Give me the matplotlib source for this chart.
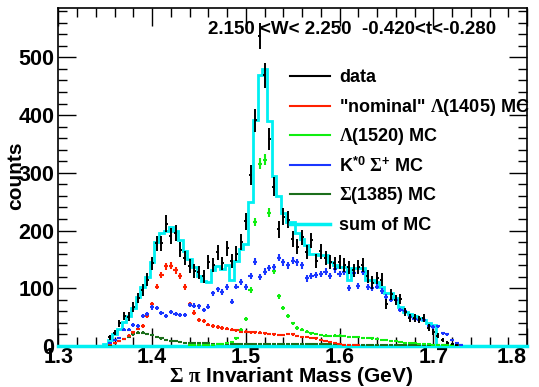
import numpy as np
import matplotlib
matplotlib.use("Agg")
import matplotlib.pyplot as plt
from matplotlib.lines import Line2D
from matplotlib.ticker import MultipleLocator

# bin width of all histograms (GeV)
BIN = 0.005

# data (black), first bin centre 1.355
data_x0 = 1.355
data_counts = [15, 23, 39, 52, 51, 68, 83, 97, 115, 143,
               178, 178, 212, 190, 195, 167, 153, 139, 130, 128,
               121, 146, 140, 162, 143, 169, 148, 160, 180, 216,
               296, 391, 537, 469, 359, 276, 202, 224, 219, 185,
               172, 188, 163, 183, 148, 164, 153, 145, 143, 146,
               140, 136, 131, 137, 140, 121, 110, 118, 115, 73,
               90, 80, 81, 59, 48, 48, 46, 48, 32, 24,
               18, 10, 6, 4, 2]

# "nominal" Lambda(1405) MC (red)
l1405_x0 = 1.355
l1405_mc = [3, 5, 8, 12, 18, 24, 30, 35, 52, 72,
            103, 123, 138, 139, 131, 121, 102, 72, 58, 45,
            43, 37, 35, 33, 31, 30, 28, 27, 25, 25,
            24, 24, 23, 22, 21, 20, 19, 19, 21, 20,
            17, 16, 15, 14, 13, 11, 9, 7, 5, 3,
            2, 2, 1, 1]

# Lambda(1520) MC (green)
l1520_x0 = 1.44
l1520_mc = [1, 1, 1, 2, 2, 2, 3, 4, 5, 7,
            13, 28, 47, 97, 215, 316, 323, 231, 130, 86,
            66, 52, 39, 31, 28, 25, 22, 21, 19, 18,
            17, 18, 18, 17, 16, 15, 15, 14, 14, 13,
            12, 11, 10, 9, 8, 7, 6, 5, 5, 4,
            3, 3, 2, 2, 1, 1, 1]

# K*0 Sigma+ MC (blue)
ks_x0 = 1.355
ks_mc = [6, 10, 14, 28, 28, 36, 35, 52, 56, 67,
         66, 57, 52, 59, 55, 54, 54, 71, 70, 69,
         62, 68, 91, 98, 94, 102, 77, 103, 111, 102,
         121, 146, 120, 129, 135, 137, 153, 145, 140, 148,
         145, 140, 117, 121, 123, 125, 129, 121, 133, 125,
         128, 100, 126, 104, 128, 102, 100, 103, 95, 85,
         80, 79, 62, 60, 51, 46, 45, 45, 35, 33,
         34, 22, 20, 10, 5, 2]

# Sigma(1385) MC (dark green)
s1385_x0 = 1.355
s1385_mc = [2, 5, 8, 12, 16, 20, 23, 23, 21, 19,
            16, 13, 11, 9, 8, 7, 6, 6, 5, 5,
            5, 5, 4, 4, 4, 4, 4, 4, 4, 4,
            3, 3, 3, 3, 3, 3, 3, 3, 3, 3,
            3, 3, 3, 3, 3, 3, 3, 3, 3, 3,
            2, 2, 2, 2, 2, 2, 2, 2, 2, 2,
            2, 2, 2, 2, 2, 2, 2, 2, 2, 2,
            1, 1, 1, 1, 1, 1]

# sum of MC (cyan step histogram)
sum_x0 = 1.35
sum_mc = [4, 11, 20, 30, 42, 52, 65, 85, 103, 120,
          145, 180, 195, 200, 207, 200, 184, 165, 150, 136,
          121, 112, 111, 132, 138, 134, 140, 115, 148, 168,
          176, 249, 392, 470, 479, 390, 295, 260, 230, 214,
          214, 195, 186, 175, 160, 160, 158, 158, 146, 140,
          136, 136, 114, 135, 135, 135, 114, 114, 111, 103,
          92, 92, 83, 67, 59, 56, 52, 48, 45, 40,
          36]

x_ticks = [1.3, 1.4, 1.5, 1.6, 1.7, 1.8]
x_ticklabels = ["1.3", "1.4", "1.5", "1.6", "1.7", "1.8"]
title = "2.150 <W< 2.250  -0.420<t<-0.280"

RED = "#ff2000"
GREEN = "#10ee10"
BLUE = "#1a36ff"
DKGREEN = "#1b6e1b"
CYAN = "#00f0f2"

plt.rcParams["font.family"] = ["Liberation Sans", "DejaVu Sans"]
plt.rcParams["font.weight"] = "bold"
plt.rcParams["mathtext.fontset"] = "custom"
plt.rcParams["mathtext.rm"] = "Liberation Serif"
plt.rcParams["mathtext.it"] = "Liberation Serif"
plt.rcParams["mathtext.bf"] = "Liberation Sans:bold"


def centres(x0, vals):
    return x0 + BIN * np.arange(len(vals))


W, H = 539, 387
fig = plt.figure(figsize=(W / 100, H / 100), dpi=100)
ax = fig.add_axes([58.4 / W, 1 - 346 / H, (527 - 58.4) / W, (346 - 8.3) / H])

# sum of MC histogram
xc = centres(sum_x0, sum_mc)
edges = np.append(xc - BIN / 2, xc[-1] + BIN / 2)
ax.stairs(sum_mc, edges, color=CYAN, lw=2, baseline=0, zorder=2)
ax.plot([1.3, 1.8], [0, 0], color=CYAN, lw=2.5, clip_on=False, zorder=3)

# MC components as error-bar crosses
for x0, vals, col in [(s1385_x0, s1385_mc, DKGREEN), (l1405_x0, l1405_mc, RED),
                      (l1520_x0, l1520_mc, GREEN), (ks_x0, ks_mc, BLUE)]:
    v = np.array(vals, dtype=float)
    ax.errorbar(centres(x0, vals), v, yerr=0.5 * np.sqrt(v), xerr=0.0022,
                fmt="none", ecolor=col, elinewidth=1.5, capsize=0, zorder=4)

# data
d = np.array(data_counts, dtype=float)
ax.errorbar(centres(data_x0, data_counts), d, yerr=np.sqrt(d), xerr=0.0016,
            fmt="none", ecolor="black", elinewidth=1.4, capsize=0, zorder=5)

ax.set_xlim(1.3, 1.8)
ax.set_ylim(0, 585)
ax.set_xticks(x_ticks, x_ticklabels)
ax.xaxis.set_minor_locator(MultipleLocator(0.02))
ax.yaxis.set_major_locator(MultipleLocator(100))
ax.yaxis.set_minor_locator(MultipleLocator(20))
ax.tick_params(which="both", direction="in", top=True, right=True, labelsize=15.5)
ax.tick_params(which="major", length=13, width=1)
ax.tick_params(which="minor", length=6.5, width=1)
ax.tick_params(axis="x", pad=1)
ax.tick_params(axis="y", pad=3)
for s in ax.spines.values():
    s.set_linewidth(1.2)

# keep the last x label inside the canvas, as ROOT does
ax.xaxis.get_major_ticks()[-1].label1.set_horizontalalignment("right")

fig.text(291 / W, 1 - 377 / H, r"$\Sigma\ \pi$ Invariant Mass (GeV)",
         ha="center", va="center", fontsize=15, fontweight="bold")
fig.text(16 / W, 1 - 176 / H, "counts", rotation=90, ha="center", va="center",
         fontsize=15, fontweight="bold")
fig.text(208 / W, 1 - 29 / H, title, ha="left", va="center", fontsize=13.5,
         fontweight="bold")

# legend drawn by hand to keep ROOT-like spacing
legend_rows = [
    ("data", "black", 1.5, 76),
    ('"nominal" $\\Lambda$(1405) MC', RED, 1.5, 106),
    ("$\\Lambda$(1520) MC", GREEN, 1.5, 135),
    (r"$\mathbf{K}^{\mathbf{*0}}\ \Sigma^{\mathbf{+}}$ MC", BLUE, 1.5, 165),
    ("$\\Sigma$(1385) MC", DKGREEN, 1.5, 194),
    ("sum of MC", CYAN, 2.5, 224),
]
for label, col, lw, y in legend_rows:
    fig.add_artist(Line2D([290 / W, 330 / W], [1 - y / H, 1 - y / H],
                          transform=fig.transFigure, color=col, lw=lw))
    fig.text(339 / W, 1 - (y + 1.5) / H, label, ha="left", va="center",
             fontsize=13, fontweight="bold")

fig.savefig("out.png", dpi=100)
